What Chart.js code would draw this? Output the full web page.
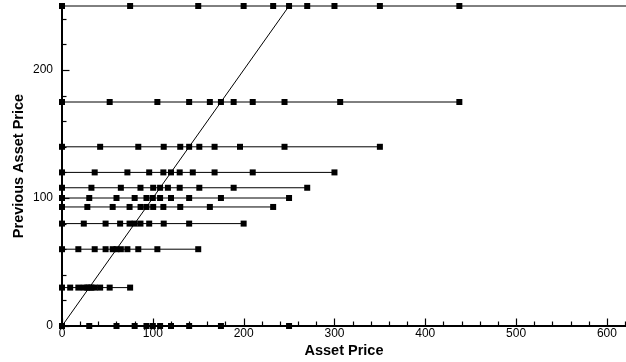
<!DOCTYPE html>
<html>
<head>
<meta charset="utf-8">
<script src="https://cdn.jsdelivr.net/npm/chart.js@4.4.1/dist/chart.umd.min.js"></script>
<style>
  html, body { margin: 0; padding: 0; background: #fff; }
  #wrap { width: 626px; height: 362px; }
</style>
</head>
<body>
<div id="wrap"><canvas id="chart"></canvas></div>
<script>
// previous asset price of each row (y)
const prevPrices = [0, 30, 60, 80, 93, 100, 108, 120, 140, 175, 250];

// asset prices (x) of the markers on each row
const pricesAt0   = [0, 30, 60, 80, 93, 100, 108, 120, 140, 175, 250];
const pricesAt30  = [0, 9, 18, 24, 27.9, 30, 32.4, 36, 42, 52.5, 75];
const pricesAt60  = [0, 18, 36, 48, 55.8, 60, 64.8, 72, 84, 105, 150];
const pricesAt80  = [0, 24, 48, 64, 74.4, 80, 86.4, 96, 112, 140, 200];
const pricesAt93  = [0, 27.9, 55.8, 74.4, 86.5, 93, 100.4, 111.6, 130.2, 162.8, 232.5];
const pricesAt100 = [0, 30, 60, 80, 93, 100, 108, 120, 140, 175, 250];
const pricesAt108 = [0, 32.4, 64.8, 86.4, 100.4, 108, 116.6, 129.6, 151.2, 189, 270];
const pricesAt120 = [0, 36, 72, 96, 111.6, 120, 129.6, 144, 168, 210, 300];
const pricesAt140 = [0, 42, 84, 112, 130.2, 140, 151.2, 168, 196, 245, 350];
const pricesAt175 = [0, 52.5, 105, 140, 162.8, 175, 189, 210, 245, 306.3, 437.5];
const pricesAt250 = [0, 75, 150, 200, 232.5, 250, 270, 300, 350, 437.5, 625];

const rowPrices = [pricesAt0, pricesAt30, pricesAt60, pricesAt80, pricesAt93, pricesAt100,
                   pricesAt108, pricesAt120, pricesAt140, pricesAt175, pricesAt250];

// 45 degree line
const diagX = [0, 250];
const diagY = [0, 250];

const xTicks = [0, 100, 200, 300, 400, 500, 600];
const yTicks = [0, 100, 200];

const FONT = "'Liberation Sans', Arial, sans-serif";

const datasets = rowPrices.map((xs, i) => ({
    data: xs.map(x => ({ x: x, y: prevPrices[i] })),
    showLine: true,
    borderColor: '#000',
    borderWidth: 1,
    pointStyle: 'rect',
    pointRadius: 4.25,
    pointBackgroundColor: '#000',
    pointBorderWidth: 0,
    clip: false,
}));

datasets.push({
    data: diagX.map((x, i) => ({ x: x, y: diagY[i] })),
    showLine: true,
    borderColor: '#000',
    borderWidth: 1,
    pointRadius: 0,
    clip: false,
});

// little tick marks pointing into the plot, every 20 units
const innerTicks = {
    id: 'innerTicks',
    afterDraw(chart) {
        const ctx = chart.ctx;
        const { x, y } = chart.scales;
        const area = chart.chartArea;
        ctx.save();
        ctx.strokeStyle = '#000';
        ctx.lineWidth = 1.2;
        for (let v = 0; v <= x.max; v += 20) {
            const px = Math.round(x.getPixelForValue(v)) + 0.5;
            const len = v % 100 === 0 ? 7.5 : 4.5;
            ctx.beginPath();
            ctx.moveTo(px, area.bottom);
            ctx.lineTo(px, area.bottom - len);
            ctx.stroke();
        }
        for (let v = 0; v <= y.max; v += 20) {
            const py = Math.round(y.getPixelForValue(v)) + 0.5;
            const len = v % 100 === 0 ? 7.5 : 4.5;
            ctx.beginPath();
            ctx.moveTo(area.left, py);
            ctx.lineTo(area.left + len, py);
            ctx.stroke();
        }
        ctx.restore();
    },
};

new Chart(document.getElementById('chart'), {
    type: 'scatter',
    data: { datasets: datasets },
    options: {
        responsive: true,
        maintainAspectRatio: false,
        animation: false,
        layout: { autoPadding: false, padding: { top: 6, right: 0, left: 0, bottom: 0 } },
        plugins: {
            legend: { display: false },
            tooltip: { enabled: false },
        },
        scales: {
            x: {
                type: 'linear',
                min: 0,
                max: 621,
                afterFit: s => {
                    s.height = 36;
                    s.paddingLeft = 0;
                    s.paddingRight = 0;
                },
                afterBuildTicks: s => { s.ticks = xTicks.map(v => ({ value: v })); },
                grid: { display: false, drawTicks: false },
                border: { display: true, color: '#000', width: 2 },
                ticks: { color: '#000', padding: 0, font: { family: FONT, size: 12 } },
                title: {
                    display: true,
                    text: 'Asset Price',
                    color: '#000',
                    padding: { top: 0, bottom: 2.5 },
                    font: { family: FONT, size: 14.5, weight: 'bold' },
                },
            },
            y: {
                type: 'linear',
                min: 0,
                max: 250,
                afterFit: s => {
                    s.width = 62;
                    s.paddingTop = 0;
                    s.paddingBottom = 0;
                },
                afterBuildTicks: s => { s.ticks = yTicks.map(v => ({ value: v })); },
                grid: { display: false, drawTicks: false },
                border: { display: true, color: '#000', width: 2 },
                ticks: { color: '#000', padding: 9, font: { family: FONT, size: 12 } },
                title: {
                    display: true,
                    text: 'Previous Asset Price',
                    color: '#000',
                    padding: { top: 10, bottom: 0 },
                    font: { family: FONT, size: 14.5, weight: 'bold' },
                },
            },
        },
    },
    plugins: [innerTicks],
});
</script>
</body>
</html>
